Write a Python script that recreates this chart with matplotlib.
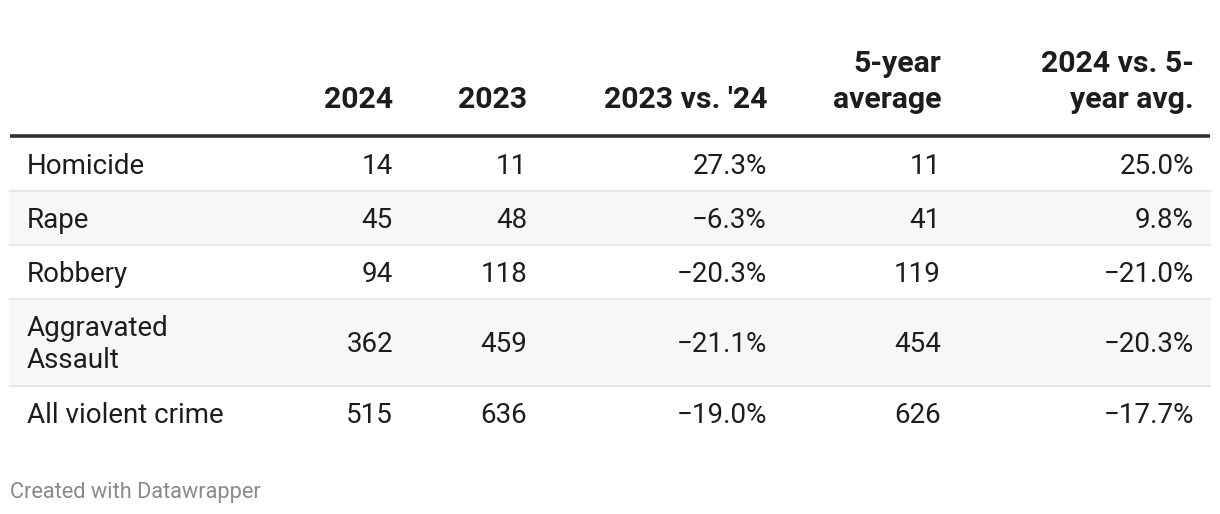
import matplotlib
matplotlib.use("Agg")
import matplotlib.pyplot as plt

plt.rcParams['font.family'] = ['Roboto', 'DejaVu Sans']

headers = ["2024", "2023", "2023 vs. '24", "5-year\naverage", "2024 vs. 5-\nyear avg."]
categories = ["Homicide", "Rape", "Robbery", "Aggravated\nAssault", "All violent crime"]
v2024 = [14, 45, 94, 362, 515]
v2023 = [11, 48, 118, 459, 636]
chg_23_24 = [27.3, -6.3, -20.3, -21.1, -19.0]
avg5 = [11, 41, 119, 454, 626]
chg_vs_avg = [25.0, 9.8, -21.0, -20.3, -17.7]

W, H = 1220, 514
fig = plt.figure(figsize=(W / 100, H / 100), dpi=100)
ax = fig.add_axes([0, 0, 1, 1])
ax.set_xlim(0, W)
ax.set_ylim(H, 0)
ax.axis('off')

txt = '#1d1d1d'
fs = 20
hfs = 21.8
col_right = [393, 527, 767, 941, 1194]
left, right = 10, 1210
label_x = 27

def pct(v):
    s = f"{abs(v):.1f}%"
    return ("\u2212" + s) if v < 0 else s

# header
for x, h in zip(col_right, headers):
    lines = h.split('\n')
    for k, line in enumerate(reversed(lines)):
        ax.text(x, 108 - 36 * k, line, ha='right', va='baseline', fontsize=hfs,
                fontweight='bold', color=txt)
ax.plot([left, right], [135.5, 135.5], color='#333333', lw=2.6, solid_capstyle='butt')

y = 137
for i, cat in enumerate(categories):
    h = 87 if '\n' in cat else 54
    if i % 2 == 1:
        ax.add_patch(plt.Rectangle((left, y), right - left, h, color='#f7f7f7', lw=0, zorder=0))
    yb = y + h / 2 + 10
    lines = cat.split('\n')
    n = len(lines)
    for k, line in enumerate(lines):
        ax.text(label_x, yb + (k - (n - 1) / 2) * 32, line, ha='left', va='baseline',
                fontsize=fs, color=txt)
    vals = [str(v2024[i]), str(v2023[i]), pct(chg_23_24[i]), str(avg5[i]), pct(chg_vs_avg[i])]
    for x, v in zip(col_right, vals):
        ax.text(x, yb, v, ha='right', va='baseline', fontsize=fs, color=txt)
    y += h
    if i < len(categories) - 1:
        ax.plot([left, right], [y, y], color='#e6e6e6', lw=1.5, zorder=1)

ax.text(10, 498, "Created with Datawrapper", ha='left', va='baseline', fontsize=15.7, color='#8a8a8a')

fig.savefig('out.png', dpi=100)
